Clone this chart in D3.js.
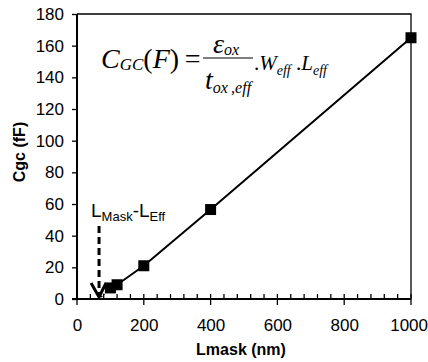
<!DOCTYPE html>
<html>
<head>
<meta charset="utf-8">
<script src="https://cdn.jsdelivr.net/npm/d3@7"></script>
<style>
html,body{margin:0;padding:0;background:#fff;}
svg{display:block;}
</style>
</head>
<body>
<svg id="chart" width="428" height="362"></svg>
<script>
const lmask = [100, 120, 200, 400, 1000];
const cgc = [7, 9, 21, 56.5, 165];
const xIntercept = 66;
const xTicks = [0, 200, 400, 600, 800, 1000];
const yTicks = [0, 20, 40, 60, 80, 100, 120, 140, 160, 180];
const xMinorStep = 40;

const svg = d3.select("#chart");
const m = {left: 77, right: 17, top: 14, bottom: 63};
const W = 428, H = 362;
const x = d3.scaleLinear().domain([0, 1000]).range([m.left, W - m.right]);
const y = d3.scaleLinear().domain([0, 180]).range([H - m.bottom, m.top]);
const sans = "Liberation Sans, Arial, sans-serif";

// frame (top and right)
svg.append("path")
  .attr("d", `M${x(0)},${y(180)}H${x(1000)}V${y(0)}`)
  .attr("fill", "none").attr("stroke", "#000").attr("stroke-width", 1.3);

// minor x ticks (inside)
const minor = d3.range(0, 1001, xMinorStep).filter(v => v % 200 !== 0);
svg.append("g").selectAll("line").data(minor).join("line")
  .attr("x1", d => x(d)).attr("x2", d => x(d))
  .attr("y1", y(0)).attr("y2", y(0) - 5)
  .attr("stroke", "#000").attr("stroke-width", 1.3);
// major x ticks crossing
svg.append("g").selectAll("line").data(xTicks).join("line")
  .attr("x1", d => x(d)).attr("x2", d => x(d))
  .attr("y1", y(0) - 5).attr("y2", y(0) + 6)
  .attr("stroke", "#000").attr("stroke-width", 1.3);

// x axis
const xAxis = svg.append("g").attr("transform", `translate(0,${y(0)})`)
  .call(d3.axisBottom(x).tickValues(xTicks).tickSize(0).tickPadding(20).tickFormat(d3.format("d")));
xAxis.select(".domain").attr("stroke-width", 2).attr("d", `M${x(0)-5},0H${x(1000)}`);
xAxis.selectAll("text").attr("font-family", sans).attr("font-size", 17).attr("fill", "#000");
// keep the last label inside the canvas
xAxis.selectAll(".tick").filter(d => d === 1000).select("text")
  .attr("text-anchor", "end").attr("x", W - 0.5 - x(1000));

// y axis
const yAxis = svg.append("g").attr("transform", `translate(${x(0)},0)`)
  .call(d3.axisLeft(y).tickValues(yTicks).tickSize(5).tickPadding(8));
yAxis.select(".domain").attr("stroke-width", 2).attr("d", `M0,${y(0)}V${y(180)}`);
yAxis.selectAll(".tick line").attr("stroke-width", 1.3);
yAxis.selectAll("text").attr("font-family", sans).attr("font-size", 17).attr("fill", "#000");

// axis titles
svg.append("text").attr("x", 241).attr("y", 355).attr("text-anchor", "middle")
  .attr("font-family", sans).attr("font-weight", "bold").attr("font-size", 16)
  .text("Lmask (nm)");
svg.append("text").attr("transform", "translate(25,152) rotate(-90)").attr("text-anchor", "middle")
  .attr("font-family", sans).attr("font-weight", "bold").attr("font-size", 16)
  .text("Cgc (fF)");

// dotted extension to x-intercept
svg.append("line")
  .attr("x1", x(xIntercept)).attr("y1", y(0))
  .attr("x2", x(lmask[0])).attr("y2", y(cgc[0]))
  .attr("stroke", "#000").attr("stroke-width", 1.5).attr("stroke-dasharray", "1.5,1.5");

// data line
const pts = lmask.map((v, i) => [v, cgc[i]]);
svg.append("path").datum(pts)
  .attr("d", d3.line().x(d => x(d[0])).y(d => y(d[1])))
  .attr("fill", "none").attr("stroke", "#000").attr("stroke-width", 2);

// markers
const ms = 11;
svg.append("g").selectAll("rect").data(pts).join("rect")
  .attr("x", d => x(d[0]) - ms/2).attr("y", d => y(d[1]) - ms/2)
  .attr("width", ms).attr("height", ms).attr("fill", "#000");

// dashed arrow
const ax = x(xIntercept);
svg.append("line").attr("x1", ax).attr("x2", ax).attr("y1", 226).attr("y2", y(0) - 4)
  .attr("stroke", "#000").attr("stroke-width", 3).attr("stroke-dasharray", "7,4");
svg.append("path").attr("d", `M${ax-8},${y(0)-16}L${ax},${y(0)-2}L${ax+7},${y(0)-16}`)
  .attr("fill", "none").attr("stroke", "#000").attr("stroke-width", 3);

// L_Mask - L_Eff label
const lab = svg.append("text").attr("x", 91).attr("y", 217)
  .attr("font-family", sans).attr("font-size", 19);
lab.append("tspan").text("L");
lab.append("tspan").attr("font-size", 13).attr("dy", 4).text("Mask");
lab.append("tspan").attr("dy", -4).text("-L");
lab.append("tspan").attr("font-size", 13).attr("dy", 4).text("Eff");

// formula
const serif = "Liberation Serif, Times New Roman, serif";
const f1 = svg.append("text").attr("x", 101).attr("y", 68)
  .attr("font-family", serif).attr("font-size", 28);
f1.append("tspan").attr("font-style", "italic").text("C");
f1.append("tspan").attr("font-style", "italic").attr("font-size", 17).attr("dy", 2).text("GC");
f1.append("tspan").attr("dy", -2).text("(");
f1.append("tspan").attr("font-style", "italic").text("F");
f1.append("tspan").text(")\u2009=");

svg.append("line").attr("x1", 203).attr("x2", 253).attr("y1", 58).attr("y2", 58)
  .attr("stroke", "#000").attr("stroke-width", 1.2);
const num = svg.append("text").attr("x", 213).attr("y", 53)
  .attr("font-family", serif).attr("font-size", 28);
num.append("tspan").attr("font-style", "italic").text("\u03B5");
num.append("tspan").attr("font-style", "italic").attr("font-size", 16).attr("dy", 2).text("ox");
const den = svg.append("text").attr("x", 205).attr("y", 89)
  .attr("font-family", serif).attr("font-size", 28);
den.append("tspan").attr("font-style", "italic").text("t");
den.append("tspan").attr("font-style", "italic").attr("font-size", 16).attr("dy", 4).text("ox\u2009,eff");

const f2 = svg.append("text").attr("x", 254).attr("y", 70)
  .attr("font-family", serif).attr("font-size", 21);
f2.append("tspan").text(".");
f2.append("tspan").attr("font-style", "italic").text("W");
f2.append("tspan").attr("font-style", "italic").attr("font-size", 14).attr("dy", 5).text("eff");
f2.append("tspan").attr("dy", -5).text(" .");
f2.append("tspan").attr("font-style", "italic").text("L");
f2.append("tspan").attr("font-style", "italic").attr("font-size", 14).attr("dy", 5).text("eff");
</script>
</body>
</html>
